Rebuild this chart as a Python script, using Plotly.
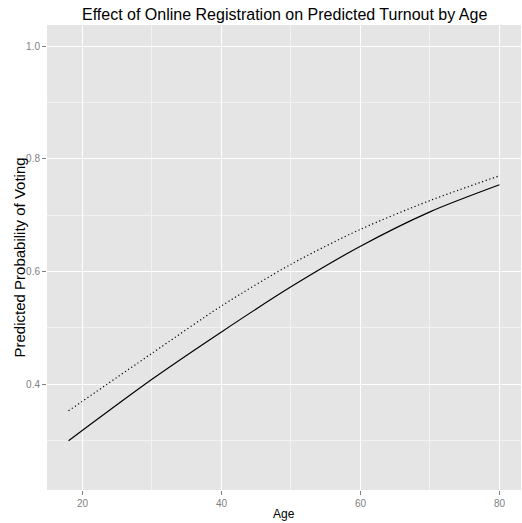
import plotly.graph_objects as go

ages = [18, 30, 40, 50, 60, 70, 80]
prob_without_online = [0.300, 0.409, 0.493, 0.573, 0.645, 0.706, 0.754]
prob_with_online = [0.353, 0.455, 0.539, 0.613, 0.675, 0.726, 0.770]

x_ticks = [20, 40, 60, 80]
y_ticks = [0.4, 0.6, 0.8, 1.0]
y_tick_labels = ["0.4", "0.6", "0.8", "1.0"]

FONT = "Liberation Sans, Arial, Helvetica, sans-serif"

fig = go.Figure()
fig.add_trace(go.Scatter(x=ages, y=prob_with_online, mode="lines",
                         line=dict(color="black", width=1.2, dash="1.2px,2.6px", shape="spline", smoothing=0.8),
                         name="Online registration", showlegend=False))
fig.add_trace(go.Scatter(x=ages, y=prob_without_online, mode="lines",
                         line=dict(color="black", width=1.2, shape="spline", smoothing=0.8),
                         name="No online registration", showlegend=False))

fig.update_layout(
    width=522, height=523,
    margin=dict(l=47, r=1, t=25, b=33, autoexpand=False),
    paper_bgcolor="white", plot_bgcolor="#E5E5E5",
    font=dict(family=FONT, color="black"),
    xaxis=dict(range=[14.9, 83.1], tickvals=x_ticks, showgrid=True, automargin=False,
               gridcolor="white", gridwidth=1.1, zeroline=False,
               ticks="outside", ticklen=4, tickcolor="#7F7F7F", tickwidth=1,
               tickfont=dict(size=10, color="#7F7F7F", family=FONT),
               minor=dict(dtick=10, tick0=0, showgrid=True, gridcolor="#F2F2F2", gridwidth=0.6, ticks=""),
               showline=False),
    yaxis=dict(range=[0.2125, 1.0375], tickvals=y_ticks, ticktext=y_tick_labels, showgrid=True, automargin=False,
               gridcolor="white", gridwidth=1.1, zeroline=False,
               ticks="outside", ticklen=4, tickcolor="#7F7F7F", tickwidth=1,
               tickfont=dict(size=10, color="#7F7F7F", family=FONT),
               minor=dict(dtick=0.1, tick0=0, showgrid=True, gridcolor="#F2F2F2", gridwidth=0.6, ticks=""),
               showline=False),
    annotations=[
        dict(text="Effect of Online Registration on Predicted Turnout by Age",
             xref="paper", yref="paper", x=0.5, y=1, yshift=11, xanchor="center", yanchor="middle",
             showarrow=False, font=dict(size=16, color="black", family=FONT)),
        dict(text="Age", xref="paper", yref="paper", x=0.5, y=0, yshift=-24,
             xanchor="center", yanchor="middle", showarrow=False,
             font=dict(size=12, color="black", family=FONT)),
        dict(text="Predicted Probability of Voting", xref="paper", yref="paper", x=0, y=0.5,
             xshift=-28, xanchor="center", yanchor="middle", textangle=-90, showarrow=False,
             font=dict(size=15, color="black", family=FONT)),
    ],
)

fig.write_html("out.html", config={"displayModeBar": False},
               post_script="document.body.style.margin='0';document.body.style.padding='0';")
